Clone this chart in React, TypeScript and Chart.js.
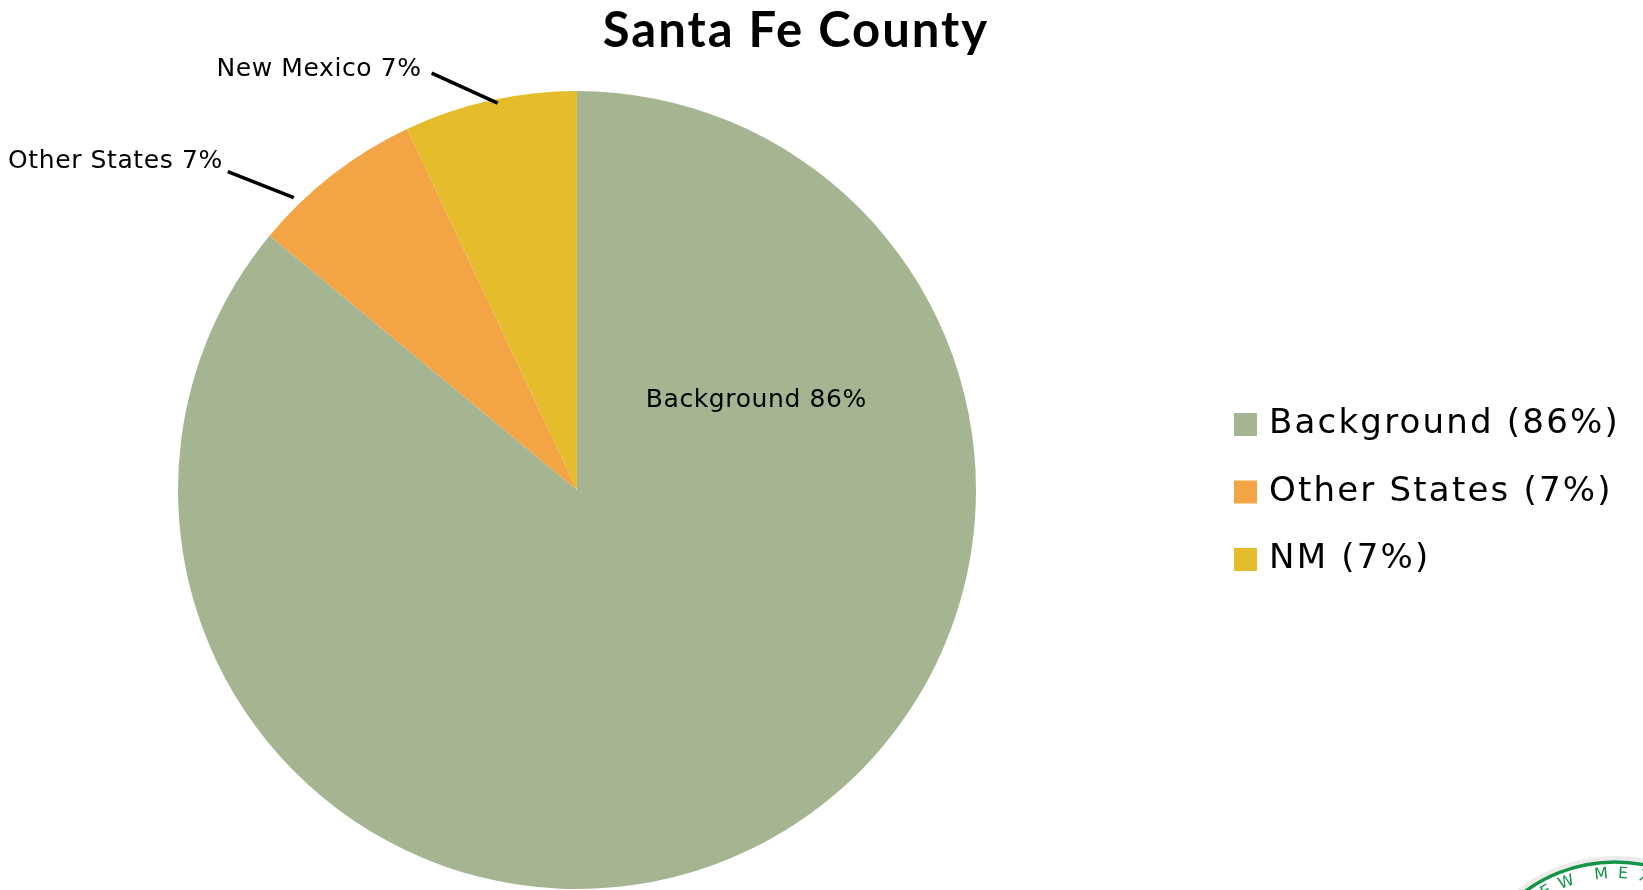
import React, { useEffect, useRef } from "react";
import { Chart, registerables } from "chart.js";

Chart.register(...registerables);

// ---------- data ----------
const TITLE = "Santa Fe County";
const categories = ["Background", "Other States", "NM"];
const values = [86, 7, 7];
const sliceLabelNames = ["Background", "Other States", "New Mexico"];
const colors = ["#A5B592", "#F3A546", "#E4BC2C"];
const SEAL_TEXT = "NEW MEXICO";

// ---------- styling / layout ----------
const W = 1643;
const H = 890;
const TITLE_FONT = "bold 49px Lato, 'Open Sans', sans-serif";
const LABEL_FONT = "25px 'DejaVu Sans', sans-serif";
const LEGEND_FONT = "34px 'DejaVu Sans', sans-serif";

// placement of data labels relative to each arc (fractions of the arc)
const labelPlacement = [
  { kind: "inside", frac: 0.203, rFrac: 0.505, textDx: 0, textDy: 9 },
  { kind: "outside", frac: 0.25, rFrac: 1.02, lineDx: -66, lineDy: -26, textDx: -5, textDy: -4 },
  { kind: "outside", frac: 0.54, rFrac: 0.99, lineDx: -66, lineDy: -30, textDx: -10, textDy: 3 },
];

function setSpacing(ctx: any, px: number) {
  if ("letterSpacing" in ctx) ctx.letterSpacing = `${px}px`;
}

const overlayPlugin = {
  id: "overlay",
  afterDraw(chart: any) {
    const ctx: CanvasRenderingContext2D = chart.ctx;
    const meta = chart.getDatasetMeta(0);
    const total = values.reduce((a, b) => a + b, 0);

    ctx.save();
    // Title
    ctx.fillStyle = "#000";
    ctx.font = TITLE_FONT;
    setSpacing(ctx, 2);
    ctx.textAlign = "center";
    ctx.textBaseline = "alphabetic";
    ctx.fillText(TITLE, 796, 47);

    // Data labels
    ctx.font = LABEL_FONT;
    setSpacing(ctx, 0.6);
    meta.data.forEach((arc: any, i: number) => {
      const p = arc.getProps(["x", "y", "startAngle", "endAngle", "outerRadius"], true);
      const pl: any = labelPlacement[i];
      const a = p.startAngle + pl.frac * (p.endAngle - p.startAngle);
      const r = p.outerRadius * pl.rFrac;
      const ax = p.x + r * Math.cos(a);
      const ay = p.y + r * Math.sin(a);
      const pct = Math.round((values[i] / total) * 100);
      const text = `${sliceLabelNames[i]} ${pct}%`;
      ctx.fillStyle = "#000";
      if (pl.kind === "inside") {
        ctx.textAlign = "center";
        ctx.fillText(text, ax + pl.textDx, ay + pl.textDy);
      } else {
        const sx = ax + pl.lineDx;
        const sy = ay + pl.lineDy;
        ctx.strokeStyle = "#000";
        ctx.lineWidth = 3.5;
        ctx.beginPath();
        ctx.moveTo(sx, sy);
        ctx.lineTo(ax, ay);
        ctx.stroke();
        ctx.textAlign = "right";
        ctx.fillText(text, sx + pl.textDx, sy + pl.textDy);
      }
    });

    // Legend
    ctx.font = LEGEND_FONT;
    setSpacing(ctx, 2.2);
    ctx.textAlign = "left";
    const legX = 1234;
    const legTop = 411;
    const box = 23;
    const step = 67.5;
    categories.forEach((c, i) => {
      const y = legTop + i * step;
      ctx.fillStyle = colors[i];
      ctx.fillRect(legX, y + 2, box, box);
      ctx.fillStyle = "#000";
      ctx.fillText(`${c} (${values[i]}%)`, legX + 35, y + 22);
    });

    // Partial seal in the bottom-right corner
    setSpacing(ctx, 0);
    const cx = 1615;
    const cy = 1014;
    const rr = 152;
    ctx.strokeStyle = "rgba(0,0,0,0.08)";
    ctx.lineWidth = 4;
    ctx.beginPath();
    ctx.arc(cx, cy, rr + 4, 0, Math.PI * 2);
    ctx.stroke();
    ctx.strokeStyle = "#139447";
    ctx.lineWidth = 3.5;
    ctx.beginPath();
    ctx.arc(cx, cy, rr, 0, Math.PI * 2);
    ctx.stroke();
    ctx.fillStyle = "#139447";
    ctx.font = "16px 'DejaVu Sans', sans-serif";
    ctx.textAlign = "center";
    ctx.textBaseline = "middle";
    const mIndex = SEAL_TEXT.indexOf("M");
    for (let k = 0; k < SEAL_TEXT.length; k++) {
      const ch = SEAL_TEXT[k];
      if (ch === " ") continue;
      let deg = -5.7 + (k - mIndex) * 9;
      if (k < mIndex) deg += 3.4;
      const rad = (deg * Math.PI) / 180;
      ctx.save();
      ctx.translate(cx + 140 * Math.sin(rad), cy - 140 * Math.cos(rad));
      ctx.rotate(rad);
      ctx.fillText(ch, 0, 0);
      ctx.restore();
    }
    ctx.restore();
  },
};

export default function App() {
  const canvasRef = useRef<HTMLCanvasElement | null>(null);

  useEffect(() => {
    document.body.style.margin = "0";
    const canvas = canvasRef.current;
    if (!canvas) return;
    const chart = new Chart(canvas, {
      type: "pie",
      data: {
        labels: categories,
        datasets: [
          {
            data: values,
            backgroundColor: colors,
            borderWidth: 0,
            hoverOffset: 0,
            offset: 0,
          },
        ],
      },
      options: {
        responsive: false,
        animation: false,
        devicePixelRatio: 1,
        events: [],
        layout: { padding: { left: 178, right: 667, top: 91, bottom: 1 } },
        plugins: {
          legend: { display: false },
          title: { display: false },
          tooltip: { enabled: false },
        },
      },
      plugins: [overlayPlugin],
    });
    return () => chart.destroy();
  }, []);

  return (
    <div style={{ position: "absolute", left: 0, top: 0, width: W, height: H, background: "#fff" }}>
      <canvas ref={canvasRef} width={W} height={H} style={{ display: "block" }} />
    </div>
  );
}
